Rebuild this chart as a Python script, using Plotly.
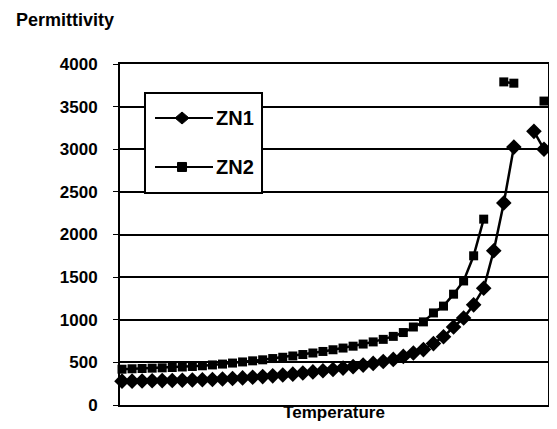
import plotly.graph_objects as go

# Temperature index (x axis has no tick labels in the reference)
temperature = list(range(1, 44))

zn1 = [280, 280, 282, 284, 286, 288, 290, 293, 296, 300,
       305, 310, 318, 325, 333, 342, 352, 362, 375, 388,
       402, 417, 433, 450, 468, 488, 510, 535, 570, 610,
       650, 720, 800, 915, 1020, 1175, 1370, 1810, 2370, 3025,
       None, 3210, 3000]

zn2 = [420, 425, 428, 432, 436, 440, 446, 452, 460, 470,
       480, 492, 505, 518, 530, 545, 560, 575, 592, 610,
       628, 648, 668, 690, 715, 740, 770, 805, 850, 915,
       975, 1080, 1160, 1300, 1455, 1750, 2180, None, 3790, 3775,
       None, None, 3565]

y_ticks = [0, 500, 1000, 1500, 2000, 2500, 3000, 3500, 4000]
series_names = ["ZN1", "ZN2"]

FONT = "Arial, 'Liberation Sans', sans-serif"

fig = go.Figure()
fig.add_trace(go.Scatter(
    x=temperature, y=zn1, name=series_names[0], mode="lines+markers",
    line=dict(color="black", width=2.5),
    marker=dict(symbol="diamond", size=12, color="black"),
    cliponaxis=False))
fig.add_trace(go.Scatter(
    x=temperature, y=zn2, name=series_names[1], mode="lines+markers",
    line=dict(color="black", width=2.5),
    marker=dict(symbol="square", size=9, color="black"),
    cliponaxis=False))

# Legend box drawn as decoration (paper coordinates)
LX0, LX1, LY0, LY1 = 0.0584, 0.3318, 0.622, 0.915
SX0, SX1, SXC = 0.0818, 0.2173, 0.1449
ROWS = [0.8416, 0.698]
shapes = [dict(type="rect", xref="paper", yref="paper",
               x0=LX0, x1=LX1, y0=LY0, y1=LY1,
               line=dict(color="black", width=2), fillcolor="white", layer="above")]
annotations = []
for name, row, sym in zip(series_names, ROWS, ["diamond", "square"]):
    shapes.append(dict(type="line", xref="paper", yref="paper",
                       x0=SX0, x1=SX1, y0=row, y1=row,
                       line=dict(color="black", width=2), layer="above"))
    if sym == "diamond":
        shapes.append(dict(type="path", xref="paper", yref="paper",
                           xsizemode="pixel", ysizemode="pixel",
                           xanchor=SXC, yanchor=row,
                           path="M 0,6 L 7,0 L 0,-6 L -7,0 Z",
                           fillcolor="black", line=dict(color="black", width=1),
                           layer="above"))
    else:
        shapes.append(dict(type="rect", xref="paper", yref="paper",
                           xsizemode="pixel", ysizemode="pixel",
                           xanchor=SXC, yanchor=row,
                           x0=-4.5, x1=4.5, y0=-4.5, y1=4.5,
                           fillcolor="black", line=dict(color="black", width=1),
                           layer="above"))
    annotations.append(dict(text=name, xref="paper", yref="paper",
                            x=0.219, y=row, xanchor="left", yanchor="middle",
                            showarrow=False,
                            font=dict(size=20, family=FONT, weight="bold")))

annotations.append(dict(text="Permittivity", xref="paper", yref="paper",
                        x=-0.248, y=1.0, xanchor="left", yanchor="bottom",
                        yshift=32, showarrow=False,
                        font=dict(size=18, family=FONT, weight="bold")))

# the page body adds an 8px margin, so the figure is 8px smaller
fig.update_layout(
    width=549, height=421,
    margin=dict(l=112, r=9, t=56, b=24, autoexpand=False),
    paper_bgcolor="white", plot_bgcolor="white",
    font=dict(family=FONT, size=17, color="black", weight="bold"),
    showlegend=False,
    shapes=shapes,
    annotations=annotations,
)
fig.update_xaxes(range=[0.8, 43.4], showticklabels=False, showgrid=False,
                 showline=True, linecolor="black", linewidth=2, mirror=True,
                 ticks="", zeroline=False, automargin=False,
                 title=dict(text="Temperature", standoff=0,
                            font=dict(size=17, family=FONT, weight="bold")))
fig.update_yaxes(range=[0, 4000], tickvals=y_ticks, tickformat="d",
                 showgrid=True, gridcolor="black", gridwidth=1.5,
                 showline=True, linecolor="black", linewidth=2, mirror=True,
                 ticks="outside", ticklen=5, tickcolor="black",
                 ticklabelstandoff=12, zeroline=False, automargin=False,
                 tickfont=dict(size=17, family=FONT, weight="bold"))

fig.write_html("out.html")
